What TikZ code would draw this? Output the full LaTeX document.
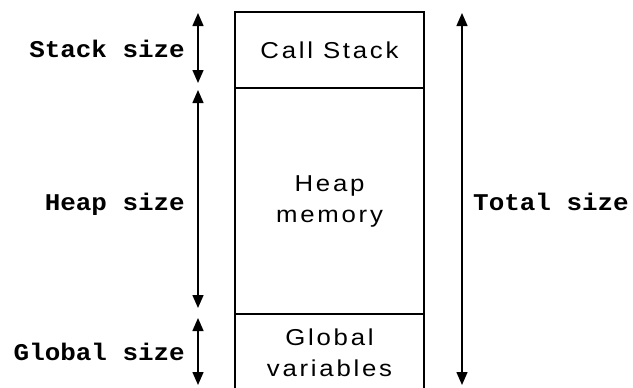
\documentclass[tikz,border=0pt]{standalone}
\usepackage{fontspec}
\usetikzlibrary{arrows.meta}
% bold typewriter for the size labels, wide sans for the memory regions
\newfontfamily\labelfont[FakeStretch=1.08]{Liberation Mono}
\newfontfamily\cellfont[FakeStretch=1.12,LetterSpace=12]{Liberation Sans}
\tikzset{
  cell/.style={draw, line width=1.2pt, minimum width=189pt, inner sep=0pt,
    align=center, font=\cellfont\fontsize{23}{31}\selectfont},
  sizelabel/.style={inner sep=0pt, font=\labelfont\bfseries\fontsize{24}{28}\selectfont},
  span/.style={line width=1.4pt, {Triangle[width=11pt,length=13pt]}-{Triangle[width=11pt,length=13pt]}}
}
\begin{document}
\begin{tikzpicture}[x=1pt,y=-1pt]
  \useasboundingbox (0,0) rectangle (633,388);
  \clip (0,0) rectangle (633,388);

  % memory layout column
  \node[cell, minimum height=76pt]  (stack)  at (329.5,50)  {Call Stack};
  \node[cell, minimum height=226pt] (heap)   at (329.5,201) {Heap\\memory};
  \node[cell, minimum height=78pt]  (global) at (329.5,353) {Global\\variables};

  % extent markers on the left
  \coordinate (s1) at (198,13);  \coordinate (s2) at (198,83);
  \coordinate (h1) at (198,90);  \coordinate (h2) at (198,308);
  \coordinate (g1) at (198,318); \coordinate (g2) at (198,385);
  \draw[span] (s1) -- (s2);
  \draw[span] (h1) -- (h2);
  \draw[span] (g1) -- (g2);

  % overall extent on the right
  \coordinate (t1) at (462,13);  \coordinate (t2) at (462,385);
  \draw[span] (t1) -- (t2);

  % labels
  \node[sizelabel, anchor=base east] (lstack)  at (185,57)  {Stack size};
  \node[sizelabel, anchor=base east] (lheap)   at (185,210) {Heap size};
  \node[sizelabel, anchor=base east] (lglobal) at (185,360) {Global size};
  \node[sizelabel, anchor=base west] (ltotal)  at (473,210) {Total size};
\end{tikzpicture}
\end{document}
